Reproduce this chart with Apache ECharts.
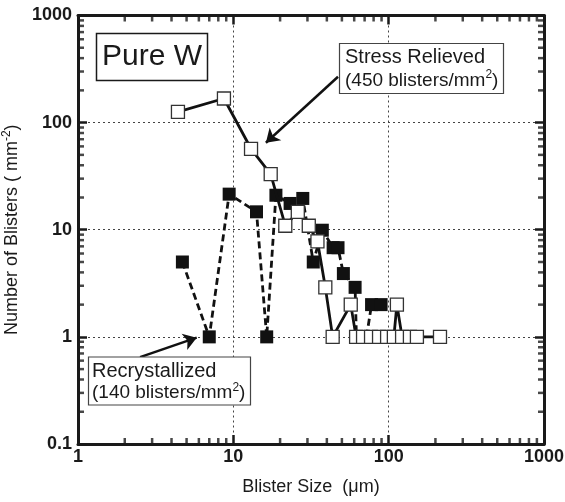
<!DOCTYPE html>
<html>
<head>
<meta charset="utf-8">
<script src="https://cdn.jsdelivr.net/npm/echarts@6/dist/echarts.min.js"></script>
<style>
  html, body { margin: 0; padding: 0; background: #fff; }
  #chart { width: 565px; height: 502px; }
</style>
</head>
<body>
<div id="chart"></div>
<script>
// Stress Relieved (open squares, solid line)
const stressX = [4.4, 8.7, 13.0, 17.4, 21.6, 26, 30.6, 34.8, 39.1, 43.6, 57, 61.7, 68.4, 77, 86.7, 97.7, 108, 113, 122, 137, 152, 214];
const stressY = [126, 168, 57, 33, 10.9, 14.7, 10.9, 7.8, 2.9, 1, 2, 1, 1, 1, 1, 1, 1, 2, 1, 1, 1, 1];
// Recrystallized (filled squares, dashed line)
const recrystX = [4.7, 7.0, 9.4, 14.1, 16.4, 18.8, 23.2, 28, 32.7, 37.4, 43.9, 47.2, 51.1, 60.8, 62, 72, 77.6, 89.4];
const recrystY = [5, 1, 21.5, 14.7, 1, 21, 17.6, 19.6, 5, 9.9, 6.8, 6.8, 3.9, 2.9, 1, 1, 2, 2];

const xMin = 1, xMax = 1000, yMin = 0.1, yMax = 1000;
const xDecades = [1, 10, 100];
const yDecades = [0.1, 1, 10, 100];
const minorSteps = [2, 3, 4, 5, 6, 7, 8, 9];

const FONT = '"Liberation Sans", Arial, sans-serif';
const INK = '#1a1a1a';

// minor ticks on all four sides, drawn as thin rect symbols pushed inward
const TL = 6, TW = 2.5;
const minorTicks = [];
xDecades.forEach(d => minorSteps.forEach(s => {
  const v = +(d * s).toPrecision(3);
  minorTicks.push({ value: [v, yMin], symbolSize: [TW, TL], symbolOffset: [0, -TL / 2] });
  minorTicks.push({ value: [v, yMax], symbolSize: [TW, TL], symbolOffset: [0, TL / 2] });
}));
yDecades.forEach(d => minorSteps.forEach(s => {
  const v = +(d * s).toPrecision(3);
  minorTicks.push({ value: [xMin, v], symbolSize: [TL, TW], symbolOffset: [TL / 2, 0] });
  minorTicks.push({ value: [xMax, v], symbolSize: [TL, TW], symbolOffset: [-TL / 2, 0] });
}));

const chart = echarts.init(document.getElementById('chart'));

function frameAxis(extra) {
  return Object.assign({
    type: 'log',
    logBase: 10,
    axisLine: { show: true, lineStyle: { color: INK, width: 3 } },
    axisTick: { show: true, inside: true, length: 9, lineStyle: { color: INK, width: 2.5 } },
    splitLine: { show: false },
  }, extra);
}

const plainNum = v => String(+v.toPrecision(3));
const gridLine = { show: true, lineStyle: { color: '#444', type: [2, 3], width: 1 } };

const option = {
  animation: false,
  grid: { left: 78, right: 21, top: 15.5, bottom: 58, containLabel: false, outerBoundsMode: 'none' },
  xAxis: [
    frameAxis({
      min: xMin, max: xMax, position: 'bottom',
      axisLabel: { color: INK, fontFamily: FONT, fontWeight: 'bold', fontSize: 18, margin: 4, formatter: plainNum },
      splitLine: gridLine,
      name: 'Blister Size  (\u03bcm)',
      nameLocation: 'middle',
      nameGap: 34,
      nameTextStyle: { color: INK, fontFamily: FONT, fontSize: 18 },
    }),
    frameAxis({
      min: xMin, max: xMax, position: 'top',
      axisLabel: { show: false },
    }),
  ],
  yAxis: [
    frameAxis({
      min: yMin, max: yMax, position: 'left',
      axisLabel: { color: INK, fontFamily: FONT, fontWeight: 'bold', fontSize: 18, margin: 6, formatter: plainNum },
      splitLine: gridLine,
      name: '{a|Number of Blisters ( mm}{s|-2}{a|)}',
      nameLocation: 'middle',
      nameGap: 38,
      nameRotate: 90,
      nameTextStyle: {
        color: INK, fontFamily: FONT, fontSize: 18,
        rich: {
          a: { color: INK, fontFamily: FONT, fontSize: 18, lineHeight: 22 },
          s: { color: INK, fontFamily: FONT, fontSize: 12, lineHeight: 22, verticalAlign: 'top' },
        },
      },
    }),
    frameAxis({
      min: yMin, max: yMax, position: 'right',
      axisLabel: { show: false },
    }),
  ],
  series: [
    {
      name: 'minor ticks',
      type: 'scatter',
      silent: true,
      clip: false,
      symbol: 'rect',
      itemStyle: { color: INK },
      data: minorTicks,
      z: 5,
    },
    {
      name: 'Recrystallized',
      type: 'line',
      data: recrystX.map((x, i) => [x, recrystY[i]]),
      symbol: 'rect',
      symbolSize: 13,
      itemStyle: { color: '#111', borderColor: '#111', borderWidth: 0 },
      lineStyle: { color: '#111', width: 2.8, type: [7, 4] },
      markLine: {
        silent: true,
        symbol: ['none', 'arrow'],
        symbolSize: 13,
        label: { show: false },
        lineStyle: { color: '#111', width: 2.5, type: 'solid' },
        data: [[{ coord: [2.51, 0.648] }, { coord: [5.81, 0.983] }]],
      },
      z: 3,
    },
    {
      name: 'Stress Relieved',
      type: 'line',
      data: stressX.map((x, i) => [x, stressY[i]]),
      symbol: 'rect',
      symbolSize: 13,
      itemStyle: { color: '#fff', borderColor: '#333', borderWidth: 1.3 },
      lineStyle: { color: '#111', width: 2.8 },
      markLine: {
        silent: true,
        symbol: ['none', 'arrow'],
        symbolSize: 13,
        label: { show: false },
        lineStyle: { color: '#111', width: 2.5, type: 'solid' },
        data: [[{ coord: [47.2, 268] }, { coord: [16.2, 64.9] }]],
      },
      z: 4,
    },
  ],
  graphic: [
    {
      type: 'rect', z: 10,
      shape: { x: 96.5, y: 33.5, width: 111, height: 47 },
      style: { fill: '#fff', stroke: INK, lineWidth: 1.5 },
    },
    {
      type: 'text', z: 11, x: 152, y: 57,
      style: { text: 'Pure W', fill: INK, font: '30px ' + FONT, align: 'center', verticalAlign: 'middle' },
    },
    {
      type: 'rect', z: 10,
      shape: { x: 339.5, y: 43.5, width: 164, height: 50 },
      style: { fill: '#fff', stroke: '#444', lineWidth: 1.2 },
    },
    {
      type: 'text', z: 11, x: 345, y: 45,
      style: {
        text: '{t|Stress Relieved}\n{p|(450 blisters/mm}{s|2}{p|)}',
        fill: INK,
        rich: {
          t: { fontFamily: FONT, fontSize: 20, lineHeight: 24, fill: INK },
          p: { fontFamily: FONT, fontSize: 19, lineHeight: 24, fill: INK },
          s: { fontFamily: FONT, fontSize: 12, lineHeight: 24, verticalAlign: 'top', fill: INK },
        },
      },
    },
    {
      type: 'rect', z: 10,
      shape: { x: 88.5, y: 357, width: 162, height: 48 },
      style: { fill: '#fff', stroke: '#444', lineWidth: 1.2 },
    },
    {
      type: 'text', z: 11, x: 92, y: 360,
      style: {
        text: '{t|Recrystallized}\n{p|(140 blisters/mm}{s|2}{p|)}',
        fill: INK,
        rich: {
          t: { fontFamily: FONT, fontSize: 20, lineHeight: 22, fill: INK },
          p: { fontFamily: FONT, fontSize: 19, lineHeight: 22, fill: INK },
          s: { fontFamily: FONT, fontSize: 12, lineHeight: 22, verticalAlign: 'top', fill: INK },
        },
      },
    },
  ],
};

chart.setOption(option);
</script>
</body>
</html>
